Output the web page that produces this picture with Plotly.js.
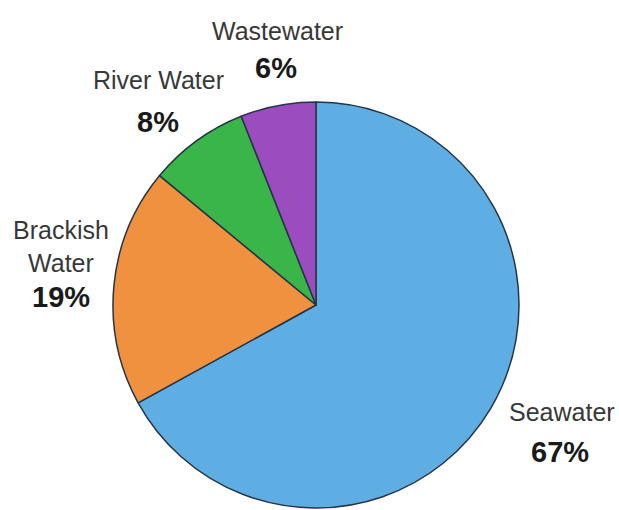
<!DOCTYPE html>
<html>
<head>
<meta charset="utf-8">
<script src="https://cdn.plot.ly/plotly-3.0.1.min.js"></script>
<style>html,body{margin:0;padding:0;background:#fff;}#chart{width:619px;height:510px;}</style>
</head>
<body>
<div id="chart"></div>
<script>
const categories = ["Seawater", "Brackish Water", "River Water", "Wastewater"];
const shares = [67, 19, 8, 6];
const sliceColors = ["#5EAEE4", "#F0913F", "#3AB54A", "#9B4DBF"];
// label positions (paper coords) and display line breaks
const labelText = ["Seawater", "Brackish<br>Water", "River Water", "Wastewater"];
const labelPos = [
  {x: 562, y: 412},
  {x: 61, y: 246},
  {x: 158, y: 80},
  {x: 277, y: 31}
];
const pctPos = [
  {x: 560, y: 452},
  {x: 61, y: 297},
  {x: 158, y: 122},
  {x: 276, y: 68}
];

const W = 619, H = 510;
const cx = 316, cy = 305, r = 203;

const annotations = [];
categories.forEach((c, i) => {
  annotations.push({
    text: labelText[i], xref: 'paper', yref: 'paper',
    x: labelPos[i].x / W, y: 1 - labelPos[i].y / H,
    xanchor: 'center', yanchor: 'middle', showarrow: false,
    font: {family: 'Liberation Sans, Arial, sans-serif', size: 25, color: '#383838'}
  });
  annotations.push({
    text: '<b>' + shares[i] + '%</b>', xref: 'paper', yref: 'paper',
    x: pctPos[i].x / W, y: 1 - pctPos[i].y / H,
    xanchor: 'center', yanchor: 'middle', showarrow: false,
    font: {family: 'Liberation Sans, Arial, sans-serif', size: 29, color: '#1a1a1a'}
  });
});

const data = [{
  type: 'pie',
  labels: categories,
  values: shares,
  sort: false,
  direction: 'clockwise',
  rotation: 0,
  textinfo: 'none',
  hoverinfo: 'label+percent',
  marker: {colors: sliceColors, line: {color: '#263545', width: 1.5}},
  domain: {x: [(cx - r) / W, (cx + r) / W], y: [(H - cy - r) / H, (H - cy + r) / H]},
  showlegend: false
}];

const layout = {
  width: W, height: H,
  margin: {l: 0, r: 0, t: 0, b: 0},
  paper_bgcolor: '#fff',
  showlegend: false,
  annotations: annotations
};

Plotly.newPlot('chart', data, layout, {displayModeBar: false, staticPlot: true});
</script>
</body>
</html>
